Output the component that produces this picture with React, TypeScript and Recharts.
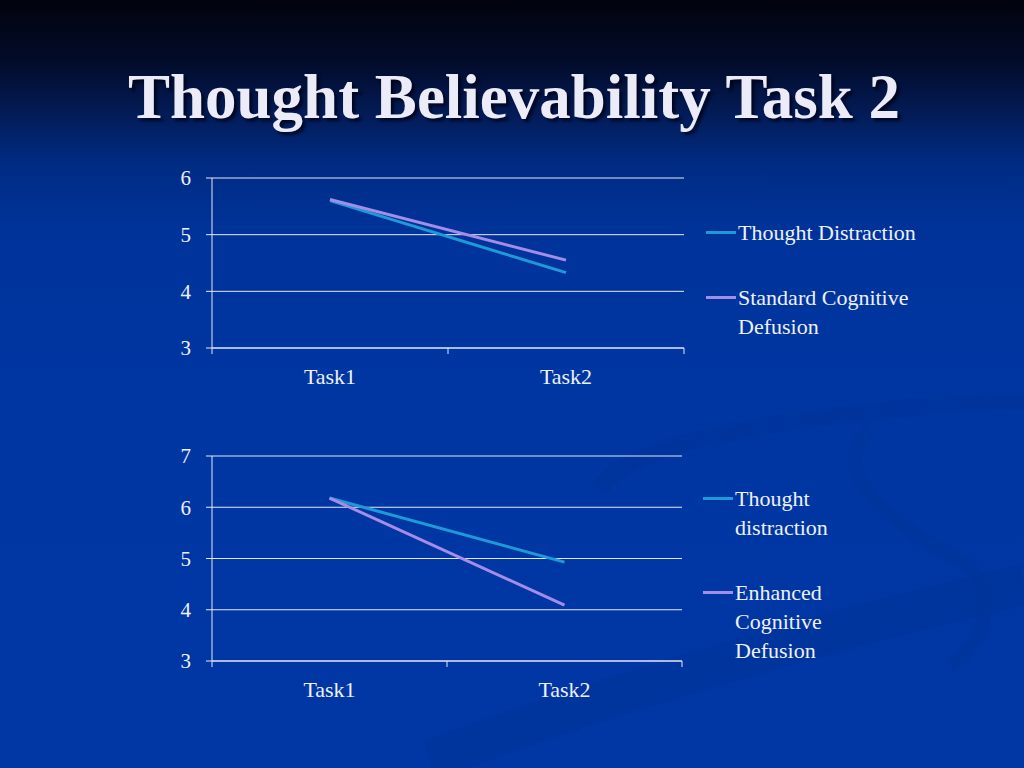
import { CartesianGrid, Legend, Line, LineChart, XAxis, YAxis } from "recharts";

const tasks = ["Task1", "Task2"];
const topDistraction = [5.6, 4.33];
const topDefusion = [5.62, 4.55];
const bottomDistraction = [6.18, 4.93];
const bottomDefusion = [6.18, 4.09];
const topTicks = [3, 4, 5, 6];
const bottomTicks = [3, 4, 5, 6, 7];
const topNames = ["Thought Distraction", "Standard Cognitive Defusion"];
const bottomNames = ["Thought distraction", "Enhanced Cognitive Defusion"];

const BLUE = "#1e9ad8";
const PURPLE = "#a48ce8";
const INK = "#eef0fa";
const GRID = "#e4e8f6";
const FONT = "'Liberation Serif', 'Times New Roman', serif";
const TICK_GAP = 19;

// x positions sit in the middle of each task band, ticks on the band edges
const xTicks = tasks.flatMap((_, i) => [i, i + 0.5]).concat(tasks.length);

function rows(a: number[], b: number[]) {
  return tasks.map((task, i) => ({ x: i + 0.5, task, a: a[i], b: b[i] }));
}

function TaskTick(props: any) {
  const { x, y, payload } = props;
  const v = payload.value as number;
  const axisY = y - TICK_GAP;
  if (Number.isInteger(v)) {
    return <line x1={x} x2={x} y1={axisY} y2={axisY + 6} stroke={GRID} strokeWidth={1} />;
  }
  return (
    <text x={x} y={axisY + 36} textAnchor="middle" fill={INK} fontSize={22} fontFamily={FONT}>
      {tasks[Math.floor(v)]}
    </text>
  );
}

function SeriesLegend({ payload, textWidth, names }: any) {
  // keep the series order, not the alphabetical one
  const items = names
    .map((n: string) => (payload || []).find((p: any) => p.value === n))
    .filter(Boolean);
  return (
    <div>
      {items.map((p: any, i: number) => (
        <div key={i} style={{ display: "flex", alignItems: "flex-start", marginTop: i ? 36 : 0 }}>
          <div style={{ width: 30, height: 3, background: p.color, marginTop: 13, flex: "none" }} />
          <div style={{ width: textWidth, marginLeft: 2, lineHeight: "29px", fontSize: 22, color: INK, fontFamily: FONT }}>
            {p.value}
          </div>
        </div>
      ))}
    </div>
  );
}

function Panel({ data, ticks, names, height, margin, legendLeft, legendTop, textWidth }: any) {
  return (
    <LineChart width={1024} height={height} data={data} margin={margin}>
      <CartesianGrid vertical={false} stroke={GRID} strokeWidth={1} />
      <XAxis
        dataKey="x"
        type="number"
        domain={[0, tasks.length]}
        ticks={xTicks}
        interval={0}
        height={40}
        stroke={GRID}
        tickLine={false}
        tickSize={0}
        tickMargin={TICK_GAP}
        tick={<TaskTick />}
      />
      <YAxis
        type="number"
        domain={[ticks[0], ticks[ticks.length - 1]]}
        ticks={ticks}
        interval={0}
        width={212}
        stroke={GRID}
        tickSize={6}
        tickMargin={15}
        tick={{ fill: INK, fontSize: 21, fontFamily: FONT }}
      />
      <Legend
        layout="vertical"
        align="center"
        verticalAlign="middle"
        wrapperStyle={{ left: legendLeft, top: legendTop, width: 280 }}
        content={(p: any) => <SeriesLegend {...p} names={names} textWidth={textWidth} />}
      />
      <Line dataKey="a" name={names[0]} stroke={BLUE} strokeWidth={3} dot={false} isAnimationActive={false} />
      <Line dataKey="b" name={names[1]} stroke={PURPLE} strokeWidth={3} dot={false} isAnimationActive={false} />
    </LineChart>
  );
}

export default function App() {
  return (
    <div
      style={{
        position: "absolute",
        left: 0,
        top: 0,
        width: 1024,
        height: 768,
        overflow: "hidden",
        background:
          "linear-gradient(to bottom, #01030c 0%, #020b2a 8%, #031c58 15%, #002b82 21%, #00339a 30%, #0036a2 50%, #0037a4 100%)",
      }}
    >
      {/* faint swirl of the slide template */}
      <svg width={1024} height={768} style={{ position: "absolute", left: 0, top: 0 }}>
        <path d="M430 760 C 620 690, 830 630, 1024 585" stroke="#00339a" strokeWidth={40} fill="none" opacity={0.6} />
        <path d="M600 490 C 620 440, 820 410, 1024 400" stroke="#00339a" strokeWidth={18} fill="none" opacity={0.6} />
        <path d="M870 430 C 820 470, 900 530, 960 560 C 1000 585, 990 640, 950 665" stroke="#00339a" strokeWidth={14} fill="none" opacity={0.5} />
      </svg>
      <div
        style={{
          position: "absolute",
          left: 2,
          top: 62,
          width: 1024,
          textAlign: "center",
          fontFamily: FONT,
          fontWeight: "bold",
          fontSize: 63,
          lineHeight: "70px",
          color: "#ecebf8",
          textShadow: "3px 3px 3px rgba(0,0,20,0.75)",
        }}
      >
        Thought Believability Task 2
      </div>
      <div style={{ position: "absolute", left: 0, top: 150 }}>
        <Panel
          data={rows(topDistraction, topDefusion)}
          ticks={topTicks}
          names={topNames}
          height={250}
          margin={{ top: 28, right: 340, bottom: 12, left: 0 }}
          legendLeft={706}
          legendTop={68}
          textWidth={215}
        />
      </div>
      <div style={{ position: "absolute", left: 0, top: 430 }}>
        <Panel
          data={rows(bottomDistraction, bottomDefusion)}
          ticks={bottomTicks}
          names={bottomNames}
          height={300}
          margin={{ top: 26, right: 342, bottom: 29, left: 0 }}
          legendLeft={703}
          legendTop={54}
          textWidth={115}
        />
      </div>
    </div>
  );
}
